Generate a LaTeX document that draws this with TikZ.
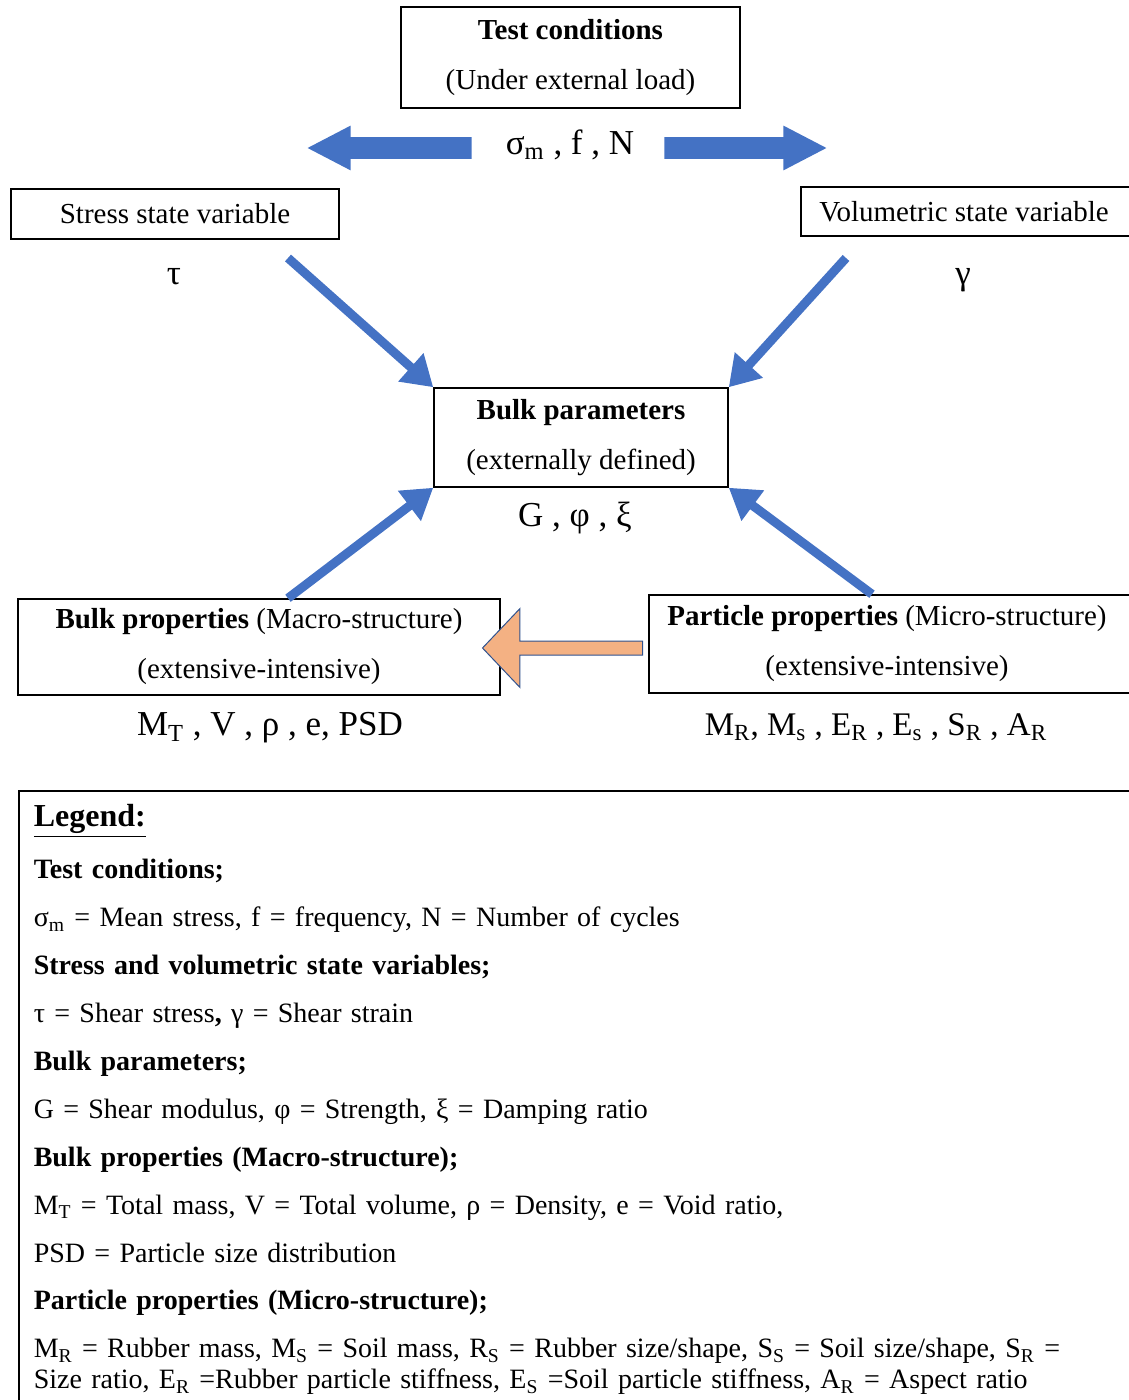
\documentclass[tikz,border=0pt]{standalone}
\usepackage{fontspec}
\setmainfont{Liberation Serif}
\usepackage{tikz}
\definecolor{arrowblue}{HTML}{4472C4}
\definecolor{arroworange}{HTML}{F4B183}
\definecolor{edgeblue}{HTML}{2F528F}
\newcommand{\boxfont}{\fontsize{14.5}{25}\selectfont}
\tikzstyle{box}=[rectangle,draw=black,line width=0.75pt,align=center,inner sep=0pt,font=\boxfont]
\tikzstyle{boxtext}=[align=center,inner sep=0pt,font=\boxfont]
\tikzstyle{var}=[inner sep=0pt,font=\fontsize{17.5}{21}\selectfont]
\tikzstyle{blockarrow}=[single arrow,fill=arrowblue,draw=none,inner sep=5.25pt,
single arrow head extend=5.75pt,single arrow tip angle=55]
\tikzstyle{backarrow}=[single arrow,fill=arroworange,draw=edgeblue,line width=0.5pt,inner sep=3.25pt,
single arrow head extend=16.25pt,single arrow tip angle=93,shape border rotate=180,minimum height=80pt]
\tikzstyle{link}=[draw=arrowblue,line width=4.5pt,-{Triangle[length=15pt,width=18pt]}]
\tikzstyle{legendbox}=[rectangle,draw=black,line width=0.75pt,anchor=north west,align=left,
text width=548pt,inner xsep=7.5pt,inner ysep=7pt,font=\fontsize{14}{23.95}\selectfont]
\usetikzlibrary{arrows.meta,positioning,shapes.arrows}

\begin{document}
\begin{tikzpicture}[x=0.5pt,y=-0.5pt]
            \useasboundingbox (0,0) rectangle (1128,1400);

            % TEST CONDITIONS PART

            \node[box,minimum width=169.5pt,minimum height=50.5pt] (test) at (570.5,57.5) {\textbf{Test conditions}\\(Under external load)};
            \node[var] (sfn) at (570,145) {σ\textsubscript{m} , f , N};
            \node[blockarrow,minimum height=82pt,shape border rotate=180,anchor=tail] (tostress) at (472,148) {};
            \node[blockarrow,minimum height=81pt,anchor=tail] (tovol) at (664,148) {};

            % STATE VARIABLES PART

            \node[box,minimum width=164pt,minimum height=25pt] (stress) at (175,214) {Stress state variable};
            \node[var] (tau) at (174,277) {τ};
            \node[box,minimum width=172pt,minimum height=24.5pt,
                  label={[boxtext,xshift=-4.5pt]center:Volumetric state variable}] (vol) at (973,211.5) {};
            \node[var] (gamma) at (963,280) {γ};

            % BULK PARAMETERS PART

            \node[box,minimum width=147pt,minimum height=49.5pt] (bulk) at (581,437.5) {\textbf{Bulk parameters}\\(externally defined)};
            \node[var] (gpx) at (575,518) {G , φ , ξ};

            % PROPERTIES PART

            \node[box,minimum width=241pt,minimum height=48pt] (macro) at (259,647) {\textbf{Bulk properties} (Macro-structure)\\(extensive-intensive)};
            \node[var] (macrovars) at (270,728) {M\textsubscript{T} , V , ρ , e, PSD};
            \node[box,minimum width=248pt,minimum height=49pt,
                  label={[boxtext,xshift=-5pt]center:{\textbf{Particle properties} (Micro-structure)\\(extensive-intensive)}}] (micro) at (897,644) {};
            \node[var,font=\fontsize{16.5}{20}\selectfont] (microvars) at (876,727) {M\textsubscript{R}, M\textsubscript{s} , E\textsubscript{R} , E\textsubscript{s} , S\textsubscript{R} , A\textsubscript{R}};

            % Connections to Bulk parameters

            \coordinate (stresstail) at (288,258);
            \coordinate (voltail) at (846,258);

            \draw[link] (stresstail) -- (bulk.north west);
            \draw[link] (voltail) -- (bulk.north east);
            \draw[link] ([xshift=14.5pt]macro.north) -- (bulk.south west);
            \draw[link] ([xshift=-12.5pt]micro.north) -- (bulk.south east);
            \node[backarrow,anchor=tail] (micro2macro) at (643,648) {};

            % LEGEND PART

            \node[legendbox] (legend) at (18,790) {{\fontsize{16}{24}\selectfont\textbf{\underline{Legend:}}}\\[2pt]
                \textbf{Test conditions;}\\
                σ\textsubscript{m} = Mean stress, f = frequency, N = Number of cycles\\
                \textbf{Stress and volumetric state variables;}\\
                τ = Shear stress\textbf{,} γ = Shear strain\\
                \textbf{Bulk parameters;}\\
                G = Shear modulus, φ = Strength, ξ = Damping ratio\\
                \textbf{Bulk properties (Macro-structure);}\\
                M\textsubscript{T} = Total mass, V = Total volume, ρ = Density, e = Void ratio,\\
                PSD = Particle size distribution\\
                \textbf{Particle properties (Micro-structure);}\\
                M\textsubscript{R} = Rubber mass, M\textsubscript{S} = Soil mass, R\textsubscript{S} = Rubber size/shape, S\textsubscript{S} = Soil size/shape, S\textsubscript{R} =\\[-8.45pt]
                Size ratio, E\textsubscript{R} =Rubber particle stiffness, E\textsubscript{S} =Soil particle stiffness, A\textsubscript{R} = Aspect ratio\\[10pt]
                \mbox{}};

\end{tikzpicture}
\end{document}
